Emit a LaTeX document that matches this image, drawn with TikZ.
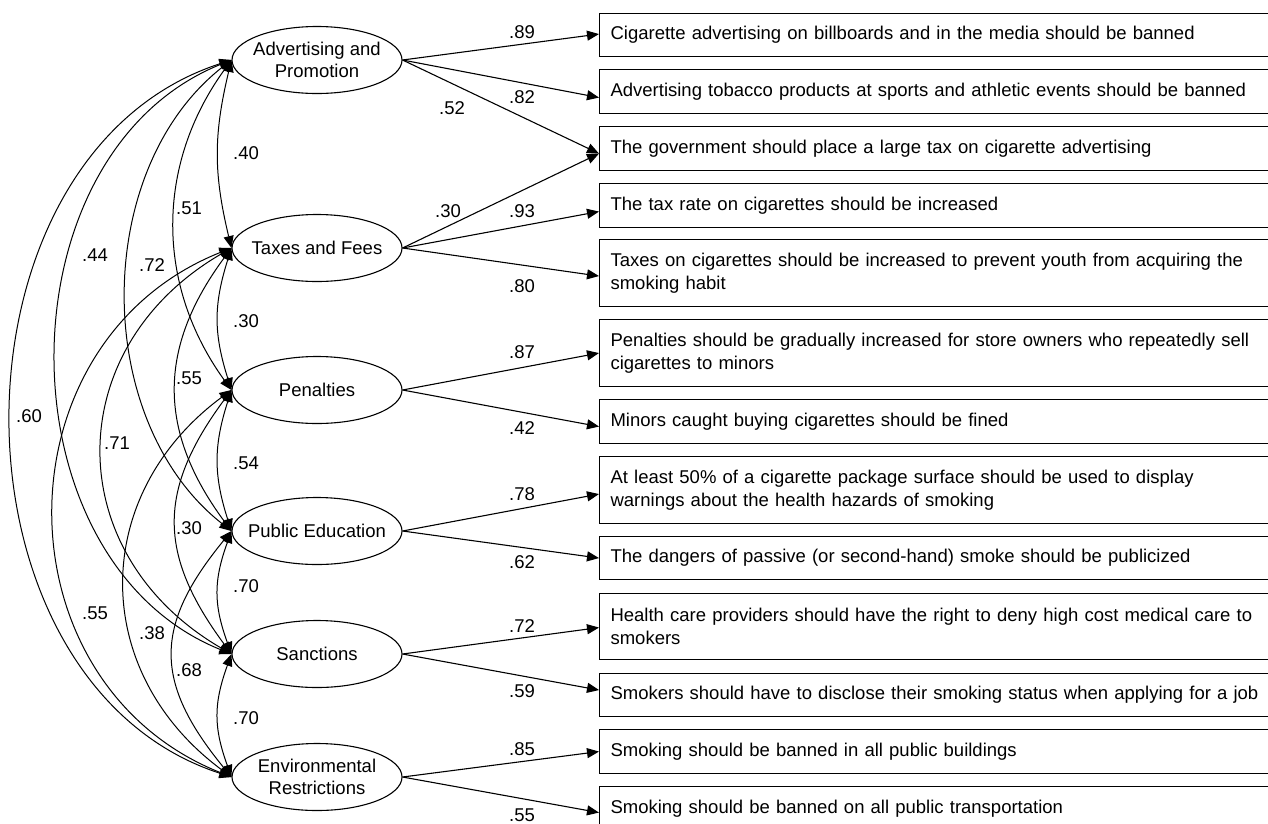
\documentclass[tikz,border=0pt]{standalone}
\usepackage{fontspec}
\setmainfont{Liberation Sans}
\usetikzlibrary{shapes.geometric,arrows.meta}
\newcommand{\zw}[1]{\makebox[0pt][c]{#1}}
\begin{document}
\begin{tikzpicture}[x=1pt,y=-1pt,
  every node/.style={font=\fontsize{18.5}{22}\selectfont},
  lat/.style={draw, ellipse, minimum width=170pt, minimum height=67pt, inner sep=0pt, align=center, line width=1.1pt},
  item/.style={draw, rectangle, anchor=north west, text width=678pt, inner xsep=11pt, inner ysep=0pt, align=left, line width=1.1pt, font=\fontsize{18.5}{23.5}\selectfont},
  load/.style={-{Triangle[length=12pt,width=10pt]}, line width=1.1pt},
  cov/.style={{Triangle[length=12pt,width=10pt]}-{Triangle[length=12pt,width=10pt]}, line width=1pt},
  num/.style={inner sep=0pt}
]
\useasboundingbox (0,0) rectangle (1268,823);

% latent variables
\node[lat] (adv) at (317,60) {\zw{Advertising and}\\\zw{Promotion}};
\node[lat] (tax) at (317,248) {\zw{Taxes and Fees}};
\node[lat] (pen) at (317,390) {\zw{Penalties}};
\node[lat] (edu) at (317,531) {\zw{Public Education}};
\node[lat] (san) at (317,654) {\zw{Sanctions}};
\node[lat] (env) at (317,777) {\zw{Environmental}\\\zw{Restrictions}};

% items
\node[item, minimum height=43pt] (b1) at (599,13) {Cigarette advertising on billboards and in the media should be banned};
\node[item, minimum height=44pt] (b2) at (599,69) {Advertising tobacco products at sports and athletic events should be banned};
\node[item, minimum height=44pt] (b3) at (599,126) {The government should place a large tax on cigarette advertising};
\node[item, minimum height=44pt] (b4) at (599,183) {The tax rate on cigarettes should be increased};
\node[item, minimum height=67pt] (b5) at (599,239) {Taxes on cigarettes should be increased to prevent youth from acquiring the\\smoking habit};
\node[item, minimum height=67pt] (b6) at (599,319) {Penalties should be gradually increased for store owners who repeatedly sell\\cigarettes to minors};
\node[item, minimum height=44pt] (b7) at (599,399) {Minors caught buying cigarettes should be fined};
\node[item, minimum height=67pt] (b8) at (599,456) {At least 50\% of a cigarette package surface should be used to display\\warnings about the health hazards of smoking};
\node[item, minimum height=43pt] (b9) at (599,536) {The dangers of passive (or second-hand) smoke should be publicized};
\node[item, minimum height=66pt] (b10) at (599,593) {Health care providers should have the right to deny high cost medical care to\\smokers};
\node[item, minimum height=43pt] (b11) at (599,673) {Smokers should have to disclose their smoking status when applying for a job};
\node[item, minimum height=44pt] (b12) at (599,729) {Smoking should be banned in all public buildings};
\node[item, minimum height=44pt] (b13) at (599,786) {Smoking should be banned on all public transportation};

% loadings
\draw[load] (adv.east) -- ([yshift=1pt]b1.west);
\draw[load] (adv.east) -- ([yshift=-6pt]b2.west);
\draw[load] (adv.east) -- ([yshift=-5pt]b3.west);
\draw[load] (tax.east) -- ([yshift=-5pt]b3.west);
\draw[load] (tax.east) -- ([yshift=-6pt]b4.west);
\draw[load] (tax.east) -- ([yshift=-3pt]b5.west);
\draw[load] (pen.east) -- (b6.west);
\draw[load] (pen.east) -- ([yshift=-5pt]b7.west);
\draw[load] (edu.east) -- ([yshift=-4pt]b8.west);
\draw[load] (edu.east) -- (b9.west);
\draw[load] (san.east) -- ([yshift=-1pt]b10.west);
\draw[load] (san.east) -- ([yshift=5pt]b11.west);
\draw[load] (env.east) -- (b12.west);
\draw[load] (env.east) -- ([yshift=-4pt]b13.west);

\node[num] (l1) at (522,32) {.89};
\node[num] (l2) at (522,97) {.82};
\node[num] (l3) at (452,108) {.52};
\node[num] (l4) at (448,211) {.30};
\node[num] (l5) at (522,211) {.93};
\node[num] (l6) at (522,286) {.80};
\node[num] (l7) at (522,352) {.87};
\node[num] (l8) at (522,428) {.42};
\node[num] (l9) at (522,494) {.78};
\node[num] (l10) at (522,562) {.62};
\node[num] (l11) at (522,626) {.72};
\node[num] (l12) at (522,691) {.59};
\node[num] (l13) at (522,749) {.85};
\node[num] (l14) at (522,815) {.55};

% covariances
\draw[cov] (adv.west) .. controls +(-18,75) and +(-18,-75) .. (tax.west);
\draw[cov] (tax.west) .. controls +(-18,57) and +(-18,-57) .. (pen.west);
\draw[cov] (pen.west) .. controls +(-18,56) and +(-18,-56) .. (edu.west);
\draw[cov] (edu.west) .. controls +(-18,50) and +(-18,-50) .. (san.west);
\draw[cov] (san.west) .. controls +(-18,50) and +(-18,-50) .. (env.west);

\draw[cov] (adv.west) .. controls +(-76,105) and +(-76,-105) .. (pen.west);
\draw[cov] (tax.west) .. controls +(-74,100) and +(-74,-100) .. (edu.west);
\draw[cov] (pen.west) .. controls +(-74,100) and +(-74,-100) .. (san.west);
\draw[cov] (edu.west) .. controls +(-78,95) and +(-78,-95) .. (env.west);

\draw[cov] (adv.west) .. controls +(-140,110) and +(-140,-110) .. (edu.west);
\draw[cov] (tax.west) .. controls +(-172,100) and +(-172,-100) .. (san.west);
\draw[cov] (pen.west) .. controls +(-142,105) and +(-142,-105) .. (env.west);

\draw[cov] (adv.west) .. controls +(-233,94) and +(-233,-94) .. (san.west);
\draw[cov] (tax.west) .. controls +(-236,94) and +(-236,-94) .. (env.west);

\draw[cov] (adv.west) .. controls +(-293,95) and +(-293,-95) .. (env.west);

\node[num] (c1) at (246,153) {.40};
\node[num] (c2) at (189,208) {.51};
\node[num] (c3) at (95,255) {.44};
\node[num] (c4) at (152,265) {.72};
\node[num] (c5) at (246,321) {.30};
\node[num] (c6) at (189,378) {.55};
\node[num] (c7) at (29,416) {.60};
\node[num] (c8) at (117,443) {.71};
\node[num] (c9) at (246,463) {.54};
\node[num] (c10) at (189,528) {.30};
\node[num] (c11) at (246,586) {.70};
\node[num] (c12) at (95,613) {.55};
\node[num] (c13) at (152,633) {.38};
\node[num] (c14) at (189,670) {.68};
\node[num] (c15) at (246,718) {.70};
\end{tikzpicture}
\end{document}
